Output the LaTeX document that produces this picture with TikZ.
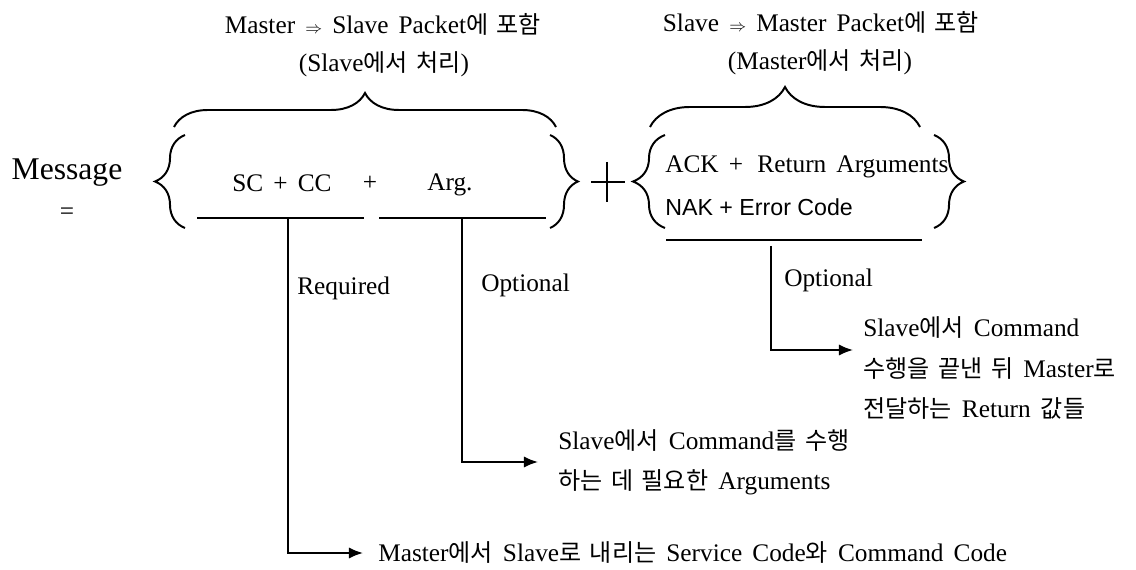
\documentclass[tikz,border=0pt]{standalone}
\usepackage{fontspec}
\setmainfont{Liberation Serif}[WordSpace=1.6]
\newfontfamily\krfont{Noto Sans CJK KR}[Scale=0.95,WordSpace=1.6]
\newfontfamily\arialfont{Liberation Sans}
\newcommand{\kor}[1]{{\krfont #1}}
\usetikzlibrary{decorations.pathreplacing,arrows.meta}

\begin{document}
\begin{tikzpicture}[x=0.025cm, y=-0.025cm]

      \tikzset{txt/.style={inner sep=0pt, font=\fontsize{18}{28.5}\selectfont},
               wide/.style={decorate, decoration={brace, amplitude=#1}, line width=1.4pt},
               bar/.style={line width=1.3pt},
               link/.style={line width=1.3pt, -{Latex[length=10pt,width=8pt]}, shorten >=#1}}
      \useasboundingbox (0,0) rectangle (1136,570);
%% Headings
      	\node[txt] (head1) at (383,24) {Master {\fontsize{12}{12}\selectfont$\Rightarrow$} Slave Packet\kor{에 포함}};
      	\node[txt] (sub1) at (384,64) {(Slave\kor{에서 처리})};
      	\node[txt] (head2) at (821,22) {Slave {\fontsize{12}{12}\selectfont$\Rightarrow$} Master Packet\kor{에 포함}};
      	\node[txt] (sub2) at (820,62) {(Master\kor{에서 처리})};
%% Message
      	\node[txt, font=\fontsize{22.5}{27}\selectfont] (msg) at (67,173) {Message};
      	\node[txt] (eq) at (67,214) {=};
      	\node[txt, anchor=west] (sccc) at (232,183) {SC + CC};
      	\node[txt] (plus1) at (370,183) {+};
      	\node[txt, anchor=west] (arg) at (427,185) {Arg.};
      	\node[txt, anchor=west] (ack) at (665,167) {ACK +\, Return Arguments};
      	\node[txt, anchor=west, font=\arialfont\fontsize{16.5}{20}\selectfont] (nak) at (665,207) {NAK + Error Code};
%Braces
      	\draw[wide=0.85cm] (174,127) -- (556,127);
      	\draw[wide=1cm] (650,127) -- (920,127);
      	\draw[wide=0.75cm] (185,228) -- (185,135);
      	\draw[wide=0.7cm] (550,135) -- (550,228);
      	\draw[wide=0.8cm] (665,228) -- (665,135);
      	\draw[wide=0.75cm] (934,135) -- (934,228);
      	\draw[bar] (591,182) -- (625,182);
      	\draw[bar] (607,162) -- (607,202);
%Underlines
      	\coordinate (u1a) at (197,218);
      	\coordinate (u1b) at (364,218);
      	\coordinate (u2a) at (379,218);
      	\coordinate (u2b) at (546,218);
      	\coordinate (u3a) at (666,240);
      	\coordinate (u3b) at (922,240);
		\draw[bar] (u1a) -- (u1b);
		\draw[bar] (u2a) -- (u2b);
		\draw[bar] (u3a) -- (u3b);
%% Notes
      	\node[txt, anchor=west] (req) at (297,288) {Required};
      	\node[txt, anchor=west] (opt2) at (481,285) {Optional};
      	\node[txt, anchor=west] (opt3) at (784,280) {Optional};
      	\node[txt, anchor=west, align=left] (ret) at (863,368) {Slave\kor{에서} Command\\\kor{수행을 끝낸 뒤} Master\kor{로}\\\kor{전달하는} Return \kor{값들}};
      	\node[txt, anchor=west, align=left] (argtxt) at (558,462) {Slave\kor{에서} Command\kor{를 수행}\\\kor{하는 데 필요한} Arguments};
      	\node[txt, anchor=west] (svc) at (378,553) {Master\kor{에서} Slave\kor{로 내리는} Service Code\kor{와} Command Code};
%Edges
      	\coordinate (r0) at (288,218);
      	\coordinate (o20) at (462,219);
      	\coordinate (o30) at (771,246);
      	\coordinate (retin) at (853,350);
		\draw[link=0.375cm] (r0) |- (svc.west);
		\draw[link=0.5cm] (o20) |- (argtxt.west);
		\draw[link=0pt] (o30) |- (retin);

	\end{tikzpicture}
\end{document}
